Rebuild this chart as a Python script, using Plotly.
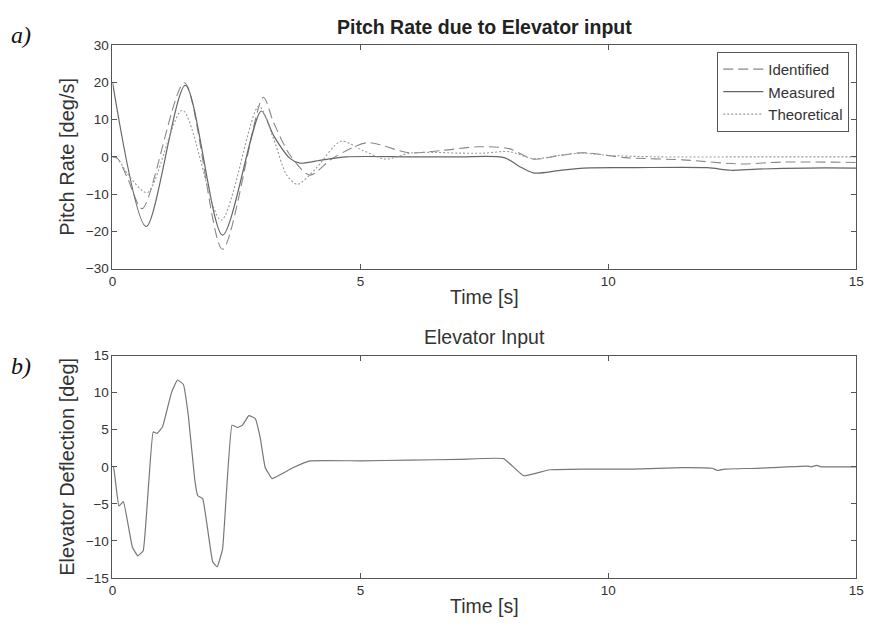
import plotly.graph_objects as go

# ---- data ----
t_meas = [0, 0.68, 1.47, 2.22, 3.0, 3.25, 3.58, 3.78, 4.24, 4.71, 6.0, 7.0, 7.9, 8.2, 8.49, 9.0, 9.5, 10.5, 12.0, 12.47, 13.0, 14.0, 15]
y_meas = [20, -18.7, 19.2, -21.0, 12.3, 5.7, -0.4, -1.7, -0.8, 0.0, 0.0, 0.0, -0.2, -2.5, -4.3, -3.7, -3.0, -2.9, -2.9, -3.6, -3.3, -3.0, -3.0]

t_ident = [0, 0.1, 0.3, 0.6, 1.45, 2.22, 3.04, 3.25, 3.58, 3.98, 4.44, 5.14, 5.97, 6.7, 7.36, 8.0, 8.49, 9.0, 9.48, 10.34, 11.5, 12.67, 13.5, 15]
y_ident = [0, -0.4, -5.6, -13.9, 19.9, -24.8, 16.0, 9.2, 0.5, -4.9, -0.4, 3.8, 1.1, 1.8, 2.7, 2.2, -0.6, 0.3, 1.1, -0.2, -0.8, -1.9, -1.4, -1.5]

t_theo = [0, 0.1, 0.3, 0.7, 1.41, 2.19, 2.95, 3.25, 3.51, 3.73, 4.11, 4.61, 5.04, 5.5, 6.0, 6.5, 7.0, 7.5, 8.0, 8.5, 9.0, 9.5, 10.0, 11.0, 13.0, 15]
y_theo = [0, -0.4, -4.5, -9.6, 12.5, -17.0, 13.6, 4.8, -4.8, -7.4, -3.0, 4.2, 1.8, -0.6, 1.0, 1.2, 1.0, 1.0, 1.4, -0.5, 0.4, 1.0, 0.4, 0.0, 0.0, 0.0]

t_elev = [0, 0.02, 0.13, 0.22, 0.4, 0.51, 0.62, 0.82, 0.9, 1.01, 1.19, 1.31, 1.43, 1.53, 1.66, 1.72, 1.82, 2.02, 2.11, 2.22, 2.41, 2.52, 2.62, 2.75, 2.88, 2.98, 3.08, 3.22, 3.4, 3.65, 3.98, 5.0, 6.0, 7.0, 7.89, 8.29, 8.82, 9.5, 10.5, 11.5, 12.1, 12.2, 12.35, 13.0, 14.0, 14.1, 14.2, 14.3, 15]
y_elev = [0, 0, -5.3, -4.7, -10.8, -12.0, -11.3, 4.7, 4.5, 5.4, 10.0, 11.7, 11.1, 6.9, -1.8, -3.9, -4.3, -12.8, -13.5, -11.1, 5.6, 5.3, 5.6, 6.9, 6.5, 3.9, -0.1, -1.6, -1.0, -0.1, 0.8, 0.8, 0.9, 1.0, 1.1, -1.2, -0.4, -0.3, -0.3, -0.1, -0.2, -0.5, -0.3, -0.2, 0.1, 0.0, 0.2, 0.0, 0.0]

x_ticks = [0, 5, 10, 15]
top_yticks = [-30, -20, -10, 0, 10, 20, 30]
bot_yticks = [-15, -10, -5, 0, 5, 10, 15]

FONT = "Liberation Sans, Arial, sans-serif"
TXT = "#333333"
AX = "#555555"

fig = go.Figure()
fig.add_trace(go.Scatter(x=t_ident, y=y_ident, name="Identified", mode="lines",
                         line=dict(color="#888888", width=1.1, dash="10px,5px", shape="spline", smoothing=0.8),
                         xaxis="x", yaxis="y"))
fig.add_trace(go.Scatter(x=t_meas, y=y_meas, name="Measured", mode="lines",
                         line=dict(color="#666666", width=1.2, shape="spline", smoothing=0.8),
                         xaxis="x", yaxis="y"))
fig.add_trace(go.Scatter(x=t_theo, y=y_theo, name="Theoretical", mode="lines",
                         line=dict(color="#999999", width=1.1, dash="2px,2px", shape="spline", smoothing=0.8),
                         xaxis="x", yaxis="y"))
fig.add_trace(go.Scatter(x=t_elev, y=y_elev, name="Elevator", mode="lines", showlegend=False,
                         line=dict(color="#777777", width=1.2, shape="spline", smoothing=0.3),
                         xaxis="x2", yaxis="y2"))

W, H = 876, 631
xdom = [110 / W, 864 / W]
top_dom = [1 - 268 / H, 1 - 39 / H]
bot_dom = [1 - 585 / H, 1 - 357 / H]

axis_common = dict(showline=True, linecolor=AX, linewidth=1, mirror="allticks",
                   ticks="inside", ticklen=5, tickcolor=AX, showgrid=False, zeroline=False,
                   tickfont=dict(family=FONT, size=13.5, color=TXT))

XT = 19.5
YT = 20

fig.update_layout(
    width=W, height=H,
    margin=dict(l=0, r=0, t=0, b=0),
    paper_bgcolor="white", plot_bgcolor="white",
    font=dict(family=FONT, color=TXT),
    xaxis=dict(domain=xdom, anchor="y", range=[0, 15], tickvals=x_ticks,
               title=dict(text="Time [s]", font=dict(size=XT, color=TXT), standoff=2), **axis_common),
    yaxis=dict(domain=top_dom, anchor="x", range=[-30, 30], tickvals=top_yticks,
               title=dict(text="Pitch Rate [deg/s]", font=dict(size=YT, color=TXT), standoff=5), **axis_common),
    xaxis2=dict(domain=xdom, anchor="y2", range=[0, 15], tickvals=x_ticks,
                title=dict(text="Time [s]", font=dict(size=XT, color=TXT), standoff=2), **axis_common),
    yaxis2=dict(domain=bot_dom, anchor="x2", range=[-15, 15], tickvals=bot_yticks,
                title=dict(text="Elevator Deflection [deg]", font=dict(size=YT, color=TXT), standoff=5), **axis_common),
    legend=dict(x=857 / W, y=1 - 46 / H, xanchor="right", yanchor="top",
                bgcolor="white", bordercolor="#555555", borderwidth=1, itemwidth=40,
                font=dict(family=FONT, size=15, color=TXT), tracegroupgap=0),
    annotations=[
        dict(text="<b>Pitch Rate due to Elevator input</b>", x=487 / W, y=1 - 20 / H, xref="paper", yref="paper",
             showarrow=False, font=dict(family=FONT, size=19.5, color="#222222"), xanchor="center", yanchor="middle"),
        dict(text="Elevator Input", x=487 / W, y=1 - 338 / H, xref="paper", yref="paper",
             showarrow=False, font=dict(family=FONT, size=19.5, color=TXT), xanchor="center", yanchor="middle"),
        dict(text="<i>a)</i>", x=5 / W, y=1 - 29 / H, xref="paper", yref="paper", showarrow=False,
             font=dict(family="Liberation Serif, Times New Roman, serif", size=24, color="#111111"),
             xanchor="left", yanchor="middle"),
        dict(text="<i>b)</i>", x=5 / W, y=1 - 368 / H, xref="paper", yref="paper", showarrow=False,
             font=dict(family="Liberation Serif, Times New Roman, serif", size=24, color="#111111"),
             xanchor="left", yanchor="middle"),
    ],
)

fig.write_html("out.html")
